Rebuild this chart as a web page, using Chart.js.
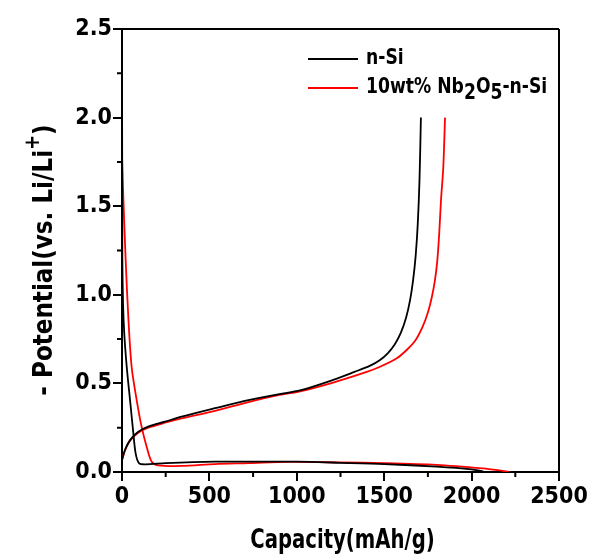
<!DOCTYPE html>
<html>
<head>
<meta charset="utf-8">
<script src="https://cdn.jsdelivr.net/npm/chart.js@4.4.0/dist/chart.umd.min.js"></script>
<style>
  body { margin: 0; background: #fff; }
  #wrap { width: 607px; height: 560px; }
</style>
</head>
<body>
<div id="wrap"><canvas id="gcd" width="607" height="560"></canvas></div>
<script>
// capacity (mAh/g) and potential (V)
const nSiDisCap = [0, 1, 2, 6, 13, 27, 46, 65, 78, 97, 132, 250, 532, 800, 1000, 1250, 1500, 1800, 2000, 2066];
const nSiDisV   = [2.3, 1.8, 1.2, 0.95, 0.78, 0.594, 0.406, 0.218, 0.105, 0.05, 0.043, 0.05, 0.058, 0.058, 0.058, 0.052, 0.045, 0.03, 0.015, 0.004];
const nSiChgCap = [0, 17, 46, 93, 150, 246, 341, 532, 723, 900, 1018, 1208, 1330, 1420, 1476, 1520, 1560, 1595, 1625, 1648, 1665, 1680, 1692, 1702, 1710];
const nSiChgV   = [0.068, 0.124, 0.18, 0.227, 0.256, 0.284, 0.312, 0.36, 0.406, 0.44, 0.46, 0.52, 0.565, 0.6, 0.632, 0.67, 0.72, 0.785, 0.87, 0.97, 1.08, 1.22, 1.4, 1.65, 2.0];

const nbDisCap = [0, 2, 8, 21, 36, 55, 84, 112, 141, 170, 206, 341, 532, 723, 950, 1250, 1500, 1800, 2066, 2150, 2216];
const nbDisV   = [1.8, 1.72, 1.535, 1.196, 0.876, 0.594, 0.406, 0.256, 0.143, 0.058, 0.038, 0.034, 0.045, 0.05, 0.057, 0.054, 0.05, 0.04, 0.02, 0.01, 0.0];
const nbChgCap = [0, 17, 46, 93, 150, 246, 341, 532, 723, 900, 1018, 1208, 1400, 1476, 1572, 1630, 1680, 1720, 1750, 1772, 1790, 1804, 1815, 1825, 1838, 1848];
const nbChgV   = [0.068, 0.122, 0.177, 0.222, 0.25, 0.278, 0.302, 0.345, 0.395, 0.435, 0.455, 0.505, 0.565, 0.594, 0.642, 0.69, 0.745, 0.82, 0.9, 0.985, 1.08, 1.196, 1.35, 1.535, 1.72, 2.0];

const xTicks = [0, 500, 1000, 1500, 2000, 2500];
const yTicks = [0.0, 0.5, 1.0, 1.5, 2.0, 2.5];
const xMinor = [250, 750, 1250, 1750, 2250];
const yMinor = [0.25, 0.75, 1.25, 1.75, 2.25];

const FONT = "'Liberation Sans Narrow', 'DejaVu Sans Condensed', 'Noto Sans', sans-serif";

const pts = (cap, v) => cap.map((c, i) => ({ x: c, y: v[i] }));

function curve(cap, v, color) {
    return {
        data: pts(cap, v),
        borderColor: color,
        borderWidth: 1.8,
        showLine: true,
        pointRadius: 0,
        tension: 0.3,
        fill: false
    };
}

// draw a run of text pieces (with sub/superscripts), squeezed horizontally
function drawPieces(ctx, pieces, x, y, squeeze, align) {
    ctx.save();
    ctx.translate(x, y);
    ctx.scale(squeeze, 1);
    let w = 0;
    pieces.forEach(p => { ctx.font = p.f; w += ctx.measureText(p.t).width; });
    let cx = align === 'center' ? -w / 2 : 0;
    ctx.textAlign = 'left';
    pieces.forEach(p => {
        ctx.font = p.f;
        ctx.fillText(p.t, cx, p.dy || 0);
        cx += ctx.measureText(p.t).width;
    });
    ctx.restore();
}

// minor ticks, top/right frame, axis titles and legend
const decorations = {
    id: 'decorations',
    afterDraw(chart) {
        const ctx = chart.ctx;
        const a = chart.chartArea;
        const xs = chart.scales.x, ys = chart.scales.y;
        ctx.save();
        ctx.strokeStyle = '#000';
        ctx.lineWidth = 2;
        ctx.beginPath();
        xMinor.forEach(v => {
            const p = xs.getPixelForValue(v);
            ctx.moveTo(p, a.bottom); ctx.lineTo(p, a.bottom + 5);
        });
        yMinor.forEach(v => {
            const p = ys.getPixelForValue(v);
            ctx.moveTo(a.left - 5, p); ctx.lineTo(a.left, p);
        });
        ctx.moveTo(a.left, a.top); ctx.lineTo(a.right, a.top);
        ctx.moveTo(a.right, a.top); ctx.lineTo(a.right, a.bottom);
        ctx.stroke();

        ctx.fillStyle = '#000';
        ctx.textBaseline = 'middle';

        // x title
        drawPieces(ctx, [{ t: 'Capacity(mAh/g)', f: 'bold 26px ' + FONT }],
            (a.left + a.right) / 2 + 2, 541, 0.84, 'center');

        // y title with superscript
        ctx.save();
        ctx.translate(45, 260);
        ctx.rotate(-Math.PI / 2);
        drawPieces(ctx, [
            { t: '- Potential(vs. Li/Li', f: 'bold 27px ' + FONT },
            { t: '+', f: 'bold 21px ' + FONT, dy: -11 },
            { t: ')', f: 'bold 27px ' + FONT }
        ], 0, 0, 0.95, 'center');
        ctx.restore();

        // legend
        const lf = 'bold 21px ' + FONT;
        const entries = [
            { color: '#000', y: 59, pieces: [{ t: 'n-Si', f: lf }] },
            { color: '#ff0000', y: 88, pieces: [
                { t: '10wt% Nb', f: lf }, { t: '2', f: lf, dy: 6 }, { t: 'O', f: lf },
                { t: '5', f: lf, dy: 6 }, { t: '-n-Si', f: lf }] }
        ];
        entries.forEach(e => {
            ctx.strokeStyle = e.color;
            ctx.lineWidth = 1.8;
            ctx.beginPath();
            ctx.moveTo(308, e.y); ctx.lineTo(358, e.y);
            ctx.stroke();
            drawPieces(ctx, e.pieces, 366, e.y, 0.91, 'left');
        });
        ctx.restore();
    }
};

new Chart(document.getElementById('gcd'), {
    type: 'scatter',
    data: {
        datasets: [
            curve(nSiDisCap, nSiDisV, '#000'),
            curve(nSiChgCap, nSiChgV, '#000'),
            curve(nbDisCap, nbDisV, '#ff0000'),
            curve(nbChgCap, nbChgV, '#ff0000')
        ]
    },
    options: {
        responsive: false,
        animation: false,
        layout: { padding: { left: 0, top: 29, right: 48, bottom: 0 } },
        plugins: { legend: { display: false }, tooltip: { enabled: false } },
        scales: {
            x: {
                type: 'linear',
                min: 0, max: 2500,
                afterBuildTicks: s => { s.ticks = xTicks.map(v => ({ value: v })); },
                afterFit: s => { s.height = 88; },
                grid: { display: true, drawOnChartArea: false, drawTicks: true, tickLength: 9, lineWidth: 2, color: '#000' },
                border: { display: true, width: 2, color: '#000' },
                ticks: {
                    color: '#000', padding: 2, maxRotation: 0,
                    font: { family: FONT, size: 23, weight: 'bold' },
                    callback: v => String(v)
                }
            },
            y: {
                type: 'linear',
                min: 0, max: 2.5,
                afterBuildTicks: s => { s.ticks = yTicks.map(v => ({ value: v })); },
                afterFit: s => { s.width = 122; },
                grid: { display: true, drawOnChartArea: false, drawTicks: true, tickLength: 9, lineWidth: 2, color: '#000' },
                border: { display: true, width: 2, color: '#000' },
                ticks: {
                    color: '#000', padding: 1,
                    font: { family: FONT, size: 23, weight: 'bold' },
                    callback: v => v.toFixed(1)
                }
            }
        }
    },
    plugins: [decorations]
});
</script>
</body>
</html>
